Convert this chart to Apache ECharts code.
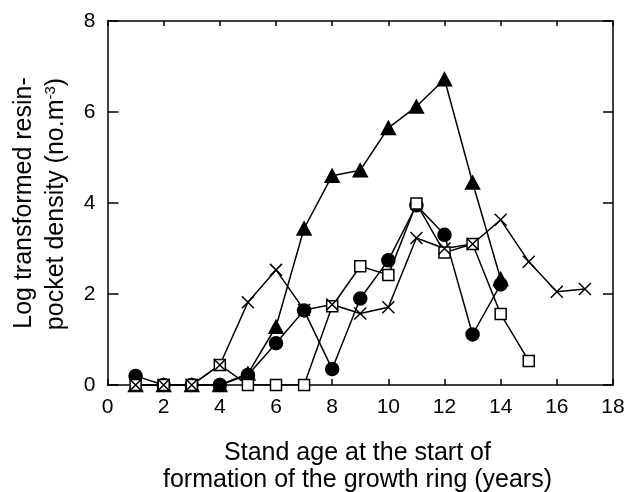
<!DOCTYPE html>
<html>
<head>
<meta charset="utf-8">
<script src="https://cdn.jsdelivr.net/npm/echarts@6/dist/echarts.min.js"></script>
<style>
  html, body { margin: 0; padding: 0; background: #fff; }
  #chart { width: 636px; height: 492px; }
</style>
</head>
<body>
<div id="chart"></div>
<script>
// Stand age (years) at the start of formation of each growth ring
const ages = [1, 2, 3, 4, 5, 6, 7, 8, 9, 10, 11, 12, 13, 14, 15, 16, 17];

// Log transformed resin-pocket density, one array per stand
const triangleValues = [0, 0, 0, 0, 0.25, 1.28, 3.44, 4.6, 4.72, 5.65, 6.12, 6.72, 4.45, 2.33];
const circleValues   = [0.2, 0, 0, 0, 0.22, 0.92, 1.64, 0.35, 1.9, 2.74, 3.95, 3.3, 1.11, 2.21];
const squareValues   = [0, 0, 0, 0.44, 0, 0, 0, 1.73, 2.61, 2.42, 3.99, 2.91, 3.1, 1.56, 0.53];
const crossValues    = [0, 0, 0, 0.44, 1.82, 2.53, 1.65, 1.77, 1.57, 1.71, 3.23, 3.0, 3.1, 3.63, 2.71, 2.05, 2.11];

// Axis ranges and ticks
const xMin = 0, xMax = 18, xStep = 2;
const yMin = 0, yMax = 8, yStep = 2;

const FONT = 'Liberation Sans, Arial, sans-serif';
const pairs = vals => vals.map((v, i) => [ages[i], v]);

const chart = echarts.init(document.getElementById('chart'), null, { renderer: 'canvas' });

const lineStyle = { color: '#000', width: 1.5 };

function makeSeries(name, vals, symbol, size, fill) {
  return {
    name,
    type: 'line',
    data: pairs(vals),
    symbol,
    symbolSize: size,
    showAllSymbol: true,
    lineStyle,
    itemStyle: { color: fill, borderColor: '#000', borderWidth: 1.5, opacity: 1 },
    emphasis: { disabled: true },
    animation: false
  };
}

const baseX = {
  type: 'value', min: xMin, max: xMax, interval: xStep,
  splitLine: { show: false },
  axisLine: { show: true, onZero: false, lineStyle: { color: '#000', width: 1.5 } },
  axisTick: { show: true, inside: true, length: 6, lineStyle: { color: '#000', width: 1.5 } }
};
const baseY = {
  type: 'value', min: yMin, max: yMax, interval: yStep,
  splitLine: { show: false },
  axisLine: { show: true, onZero: false, lineStyle: { color: '#000', width: 1.5 } },
  axisTick: { show: true, inside: true, length: 11, lineStyle: { color: '#000', width: 1.5 } }
};

const titleFont = '25px ' + FONT;

chart.setOption({
  backgroundColor: '#fff',
  animation: false,
  grid: { left: 107.5, right: 23, top: 21, bottom: 107 },
  xAxis: [
    Object.assign({}, baseX, {
      position: 'bottom',
      axisLabel: { color: '#000', fontFamily: FONT, fontSize: 21, margin: 12 }
    }),
    Object.assign({}, baseX, { position: 'top', axisLabel: { show: false },
      axisTick: { show: true, inside: true, length: 5, lineStyle: { color: '#000', width: 1.5 } } })
  ],
  yAxis: [
    Object.assign({}, baseY, {
      position: 'left',
      axisLabel: { color: '#000', fontFamily: FONT, fontSize: 21, margin: 12 }
    }),
    Object.assign({}, baseY, { position: 'right', axisLabel: { show: false },
      axisTick: { show: true, inside: true, length: 10, lineStyle: { color: '#000', width: 1.5 } } })
  ],
  graphic: [
    // x-axis title, two lines
    {
      type: 'text',
      x: 357.5, y: 467,
      style: {
        text: 'Stand age at the start of\nformation of the growth ring (years)',
        font: titleFont, fill: '#000',
        textAlign: 'center', textVerticalAlign: 'middle', lineHeight: 27
      }
    },
    // y-axis title, first line
    {
      type: 'text',
      x: 24, y: 203,
      rotation: Math.PI / 2,
      style: {
        text: 'Log transformed resin-',
        font: titleFont, fill: '#000',
        textAlign: 'center', textVerticalAlign: 'middle'
      }
    },
    // y-axis title, second line with the superscript unit
    {
      type: 'text',
      x: 56, y: 204,
      rotation: Math.PI / 2,
      style: {
        text: '{a|pocket density (no.m}{s|-3}{a|)}',
        fill: '#000', textAlign: 'center', textVerticalAlign: 'middle',
        rich: {
          a: { fontFamily: FONT, fontSize: 25, fill: '#000' },
          s: { fontFamily: FONT, fontSize: 15, verticalAlign: 'top', fill: '#000' }
        }
      }
    }
  ],
  series: [
    makeSeries('triangle', triangleValues, 'triangle', [14, 13], '#000'),
    makeSeries('circle', circleValues, 'circle', 13, '#000'),
    makeSeries('square', squareValues, 'rect', 11, '#fff'),
    makeSeries('cross', crossValues, 'path://M0,0L10,10M10,0L0,10', 12, 'none')
  ]
});
</script>
</body>
</html>
